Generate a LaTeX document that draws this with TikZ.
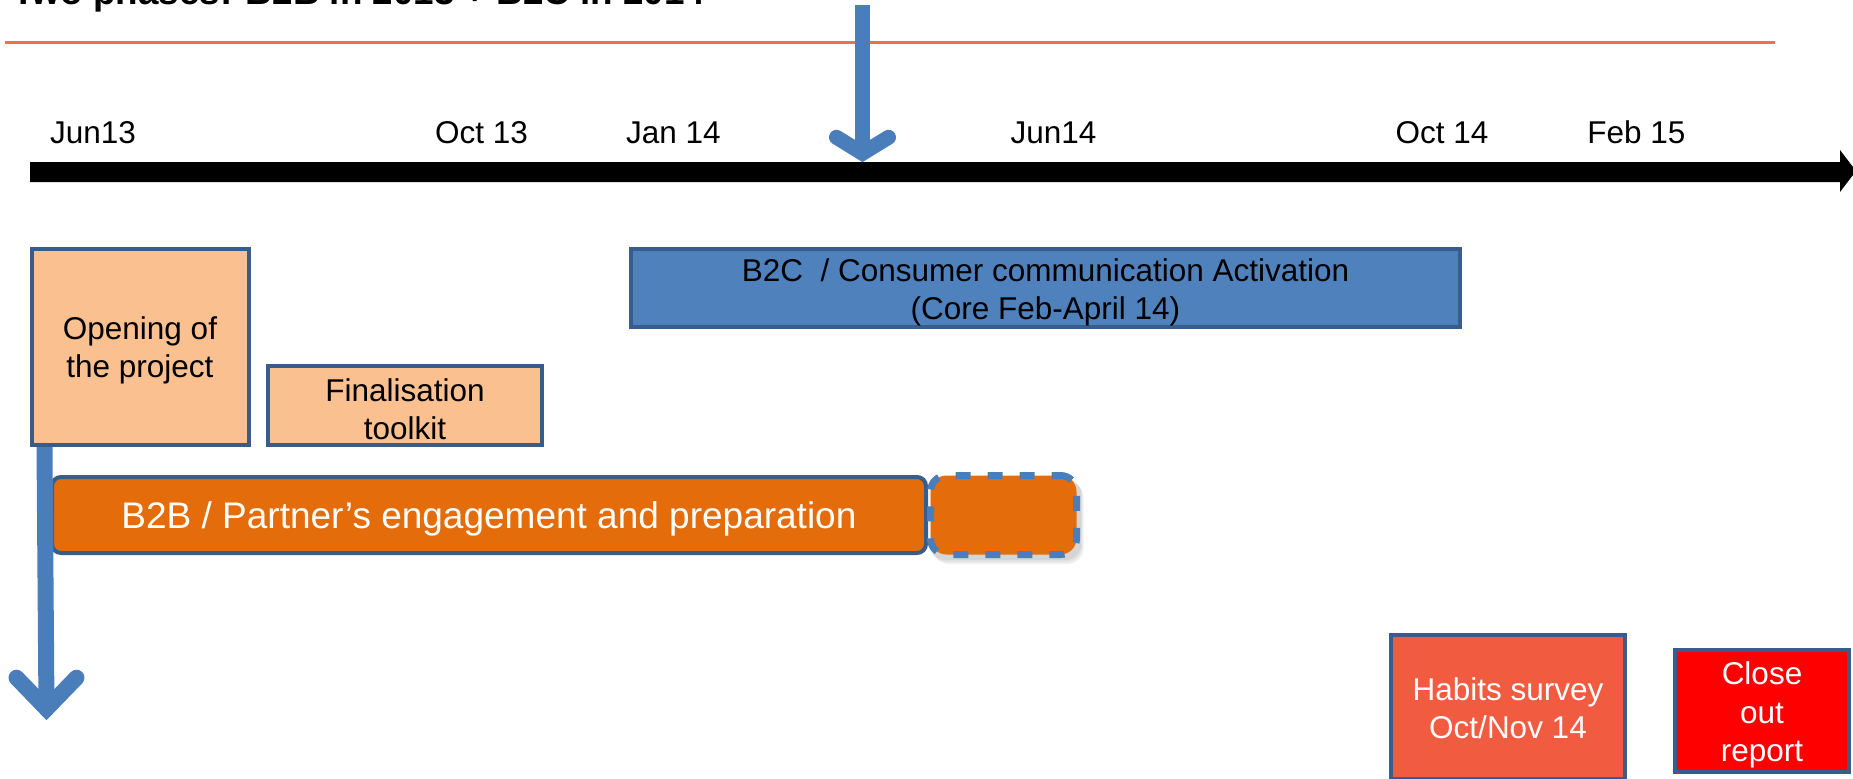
\documentclass[tikz,border=0pt]{standalone}
\usepackage{fontspec}
\setmainfont{Liberation Sans}
\usetikzlibrary{calc}
\definecolor{bordblue}{RGB}{56,93,138}
\definecolor{peach}{RGB}{250,192,144}
\definecolor{boxblue}{RGB}{79,129,189}
\definecolor{arrblue}{RGB}{74,126,187}
\definecolor{darkorange}{RGB}{228,108,10}
\definecolor{coral}{RGB}{241,91,64}
\definecolor{pureRed}{RGB}{255,0,0}
\definecolor{redline}{RGB}{240,110,85}
\begin{document}
\begin{tikzpicture}[x=1pt,y=-1pt,
  lbl/.style={font=\fontsize{31.5}{38}\selectfont, inner sep=0pt, anchor=base},
  box/.style={draw=bordblue, line width=4pt, inner sep=0pt},
  txt/.style={inner sep=0pt, align=center, font=\fontsize{31.5}{38}\selectfont},
  bluearrow/.style={draw=arrblue, line width=#1},
  chevron/.style={draw=arrblue, line width=#1, line cap=round, line join=miter}
]
\useasboundingbox (0,0) rectangle (1853,779);

% title (partly cut off at the top, as in the reference)
\node[anchor=base west, inner sep=0pt, font=\bfseries\fontsize{36.8}{40}\selectfont]
  (title) at (12,5) {Two phases: B2B in 2013 + B2C in 2014};

% red rule
\coordinate (r1) at (5,42.5);
\coordinate (r2) at (1775,42.5);
\draw[redline, line width=3pt] (r1) -- (r2);

% timeline bar with arrowhead
\fill[black] (30,162) -- (1840,162) -- (1840,150) -- (1856,171) -- (1840,192)
  -- (1840,182) -- (30,182) -- cycle;

% date labels
\node[lbl] (d1) at (93,143) {Jun13};
\node[lbl] (d2) at (481.5,143) {Oct 13};
\node[lbl] (d3) at (673.5,143) {Jan 14};
\node[lbl] (d4) at (1053.5,143) {Jun14};
\node[lbl] (d5) at (1442,143) {Oct 14};
\node[lbl] (d6) at (1636.5,143) {Feb 15};

% boxes
\node[box, fill=peach, minimum width=217pt, minimum height=196pt] (open) at (140,347) {};
\node[txt] (opent) at ($(open.center)+(0,3.5)$) {Opening of\\the project};

\node[box, fill=peach, minimum width=274pt, minimum height=79pt] (final) at (405,405.5) {};
\node[txt] (finalt) at ($(final.center)+(0,3.5)$) {Finalisation\\toolkit};

\node[box, fill=boxblue, minimum width=829pt, minimum height=78pt] (b2c) at (1045.5,288) {};
\node[txt] (b2ct) at ($(b2c.center)+(0,4)$) {B2C\ \ / Consumer communication Activation\\(Core Feb-April 14)};

\node[box, fill=darkorange, rounded corners=9pt, minimum width=874pt, minimum height=76pt]
  (b2b) at (489,515) {};
\node[txt, text=white, font=\fontsize{37}{44}\selectfont] (b2bt)
  at ($(b2b.center)+(0,4)$) {B2B / Partner’s engagement and preparation};

% soft shadow and dashed extension box
\foreach \s in {2,4,6}
  \fill[black, opacity=0.06, rounded corners=16pt]
    ($(927+\s,476+\s)$) rectangle ($(1080+\s*0.6,558+\s)$);
\node[draw=arrblue, fill=darkorange, line width=7pt, dash pattern=on 15pt off 17pt,
  dash phase=6pt, rounded corners=16pt, inner sep=0pt,
  minimum width=146pt, minimum height=79pt] (ext) at (1003.5,515) {};

\node[box, fill=coral, minimum width=234pt, minimum height=144pt] (habits) at (1508,707) {};
\node[txt, text=white] (habitst) at ($(habits.center)+(0,1)$) {Habits survey\\Oct/Nov 14};

\node[box, fill=pureRed, minimum width=174pt, minimum height=122pt] (close) at (1762,711) {};
\node[txt, text=white, font=\fontsize{31.5}{38.5}\selectfont] (closet)
  at ($(close.center)+(0,4)$) {Close\\out\\report};

% top arrow pointing at the timeline
\coordinate (ta) at (862.5,5);
\coordinate (tv) at (862.5,153.3);
\draw[bluearrow=15pt] (ta) -- (tv);
\draw[chevron=15pt] ($(tv)+(-26,-16)$) -- (tv) -- ($(tv)+(26,-16)$);

% left arrow going down from the opening box
\coordinate (la) at ($(open.south west)+(15,0)$);
\coordinate (lv) at (46.5,708.7);
\draw[bluearrow=16pt] (la) -- (lv);
\draw[chevron=16pt] ($(lv)+(-30,-31)$) -- (lv) -- ($(lv)+(30,-31)$);
\end{tikzpicture}
\end{document}
